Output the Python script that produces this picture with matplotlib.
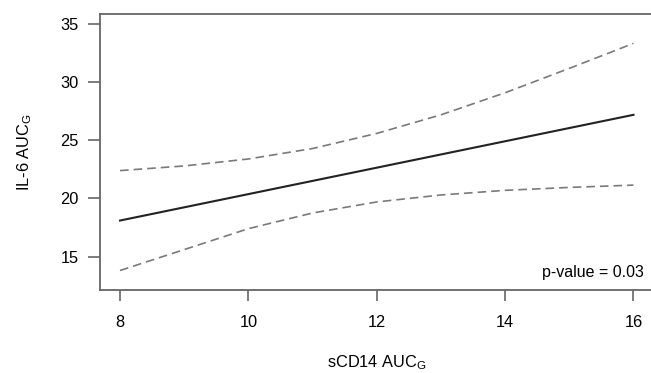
import numpy as np
import matplotlib
matplotlib.use('Agg')
import matplotlib.pyplot as plt

''' Data read off the reference '''
# sCD14 AUC_G positions where the curves were read
x_vals = [8, 9, 10, 11, 12, 13, 14, 15, 16]
# fitted line (straight), only the ends are needed
fit_x = [8, 16]
fit_y = [18.1, 27.2]
# confidence band, upper and lower
upper = [22.4, 22.8, 23.4, 24.3, 25.6, 27.2, 29.1, 31.2, 33.35]
lower = [13.8, 15.6, 17.4, 18.75, 19.7, 20.3, 20.7, 20.95, 21.15]

x_ticks = [8, 10, 12, 14, 16]
y_ticks = [15, 20, 25, 30, 35]
p_text = 'p-value = 0.03'

''' Style '''
plt.rcParams['font.family'] = ['Liberation Sans', 'DejaVu Sans']
plt.rcParams['mathtext.fontset'] = 'custom'
plt.rcParams['mathtext.rm'] = 'Liberation Sans'
plt.rcParams['mathtext.it'] = 'Liberation Sans:italic'
plt.rcParams['lines.scale_dashes'] = False
FS = 11.8
AXIS_COL = '#666666'

fig = plt.figure(figsize=(6.51, 3.73), dpi=100)
# plot region: left spine at ~99px, bottom at 290px, right edge just off the picture
ax = fig.add_axes([99.5 / 651, (373 - 290) / 373, (654 - 99.5) / 651, (290 - 14) / 373])

ax.plot(fit_x, fit_y, '-', color='#222222', linewidth=1.5)
ax.plot(x_vals, upper, color='#7a7a7a', linewidth=1.2, dashes=(6.2, 3.6))
ax.plot(x_vals, lower, color='#7a7a7a', linewidth=1.2, dashes=(6.2, 3.6))

# R style limits (4% padding)
ax.set_xlim(7.68, 16.32)
ax.set_ylim(12.12, 35.88)
ax.set_xticks(x_ticks)
ax.set_yticks(y_ticks)

for side in ['left', 'bottom', 'top', 'right']:
    ax.spines[side].set_color(AXIS_COL)
    ax.spines[side].set_linewidth(1.3)
ax.spines['right'].set_visible(False)  # cut off in the reference

ax.tick_params(axis='x', length=7.7, width=1.2, color=AXIS_COL, pad=10, labelsize=FS)
ax.tick_params(axis='y', length=8.3, width=1.2, color=AXIS_COL, pad=6.5, labelsize=FS)

ax.set_xlabel(r'sCD14 AUC$_\mathrm{G}$', fontsize=FS, labelpad=17)
ax.set_ylabel(r'IL-6 AUC$_\mathrm{G}$', fontsize=FS, labelpad=19)

ax.text(0.982, 0.065, p_text, transform=ax.transAxes, ha='right', va='center', fontsize=11.5)

fig.savefig('out.png', dpi=100)
